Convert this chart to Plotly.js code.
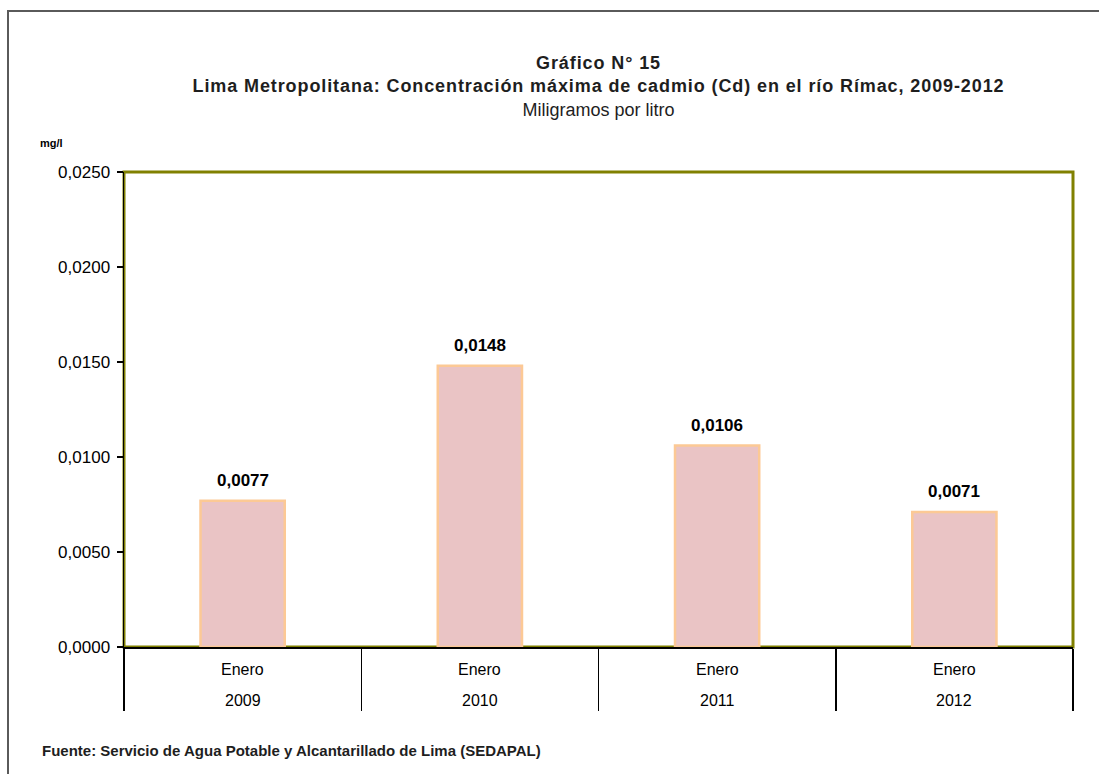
<!DOCTYPE html>
<html>
<head>
<meta charset="utf-8">
<script src="https://cdn.plot.ly/plotly-3.0.1.min.js"></script>
<style>
  html, body { margin: 0; padding: 0; background: #fff; overflow: hidden; }
  #wrap { position: relative; width: 1099px; height: 774px; }
  #chart { width: 1099px; height: 774px; }
  #frame { position: absolute; left: 7px; top: 10px; width: 1200px; height: 900px;
           border-left: 2px solid #5a5a5a; border-top: 2px solid #5a5a5a; pointer-events: none; }
</style>
</head>
<body>
<div id="wrap">
  <div id="chart"></div>
  <div id="frame"></div>
</div>
<script>
// ---- data ----
const years = ["2009", "2010", "2011", "2012"];
const months = ["Enero", "Enero", "Enero", "Enero"];
const cadmio = [0.0077, 0.0148, 0.0106, 0.0071];

const titleText = "<b>Gráfico N° 15</b><br><b>Lima Metropolitana: Concentración máxima de cadmio (Cd) en el río Rímac, 2009-2012</b><br>Miligramos por litro";
const unitText = "<b>mg/l</b>";
const sourceText = "<b>Fuente: Servicio de Agua Potable y Alcantarillado de Lima (SEDAPAL)</b>";

// ---- layout constants (pixels) ----
const W = 1099, H = 774;
const L = 124, R = 26, T = 172, B = 127;
const pw = W - L - R, ph = H - T - B;
const px2x = p => (p - L) / pw;
const py2y = p => (H - B - p) / ph;

const fontFam = "'Liberation Sans', Arial, sans-serif";

const trace = {
  type: "bar",
  x: years,
  y: cadmio,
  width: 0.355,
  marker: { color: "#eac4c5", line: { color: "#fcc995", width: 2.5 } },
  hoverinfo: "skip"
};

const barLabels = cadmio.map((v, i) => ({
  xref: "x", yref: "y",
  x: i, y: v,
  xanchor: "center", yanchor: "bottom", yshift: 9,
  text: "<b>" + v.toFixed(4).replace(".", ",") + "</b>",
  showarrow: false,
  font: { family: fontFam, size: 17, color: "#000" }
}));

// two-level category labels: month (inner) and year (outer)
const monthLabels = months.map((m, i) => ({
  xref: "x", yref: "paper",
  x: i, y: py2y(669),
  xanchor: "center", yanchor: "middle",
  text: m, showarrow: false,
  font: { family: fontFam, size: 16, color: "#000" }
}));
const yearLabels = years.map((yr, i) => ({
  xref: "x", yref: "paper",
  x: i, y: py2y(700),
  xanchor: "center", yanchor: "middle",
  text: yr, showarrow: false,
  font: { family: fontFam, size: 16, color: "#000" }
}));

const layout = {
  width: W, height: H,
  margin: { l: L, r: R, t: T, b: B, pad: 0 },
  paper_bgcolor: "rgba(0,0,0,0)",
  plot_bgcolor: "#fff",
  separators: ",.",
  showlegend: false,
  font: { family: fontFam, size: 16, color: "#000" },
  title: {
    text: titleText,
    x: 0.5, xref: "paper", xanchor: "center",
    y: 1 - 69 / H, yref: "container", yanchor: "top",
    font: { family: fontFam, size: 18, color: "#1e1e1e" }
  },
  xaxis: {
    type: "category",
    range: [-0.5, years.length - 0.5],
    tickson: "boundaries",
    showticklabels: false,
    showline: true, linecolor: "#000", linewidth: 1.5,
    ticks: "outside", ticklen: 62, tickwidth: 1.5, tickcolor: "#000",
    showgrid: false
  },
  yaxis: {
    range: [0, 0.025], dtick: 0.005, tick0: 0,
    tickformat: ".4f",
    showgrid: false, zeroline: false,
    showline: true, linecolor: "#000", linewidth: 1.5,
    ticks: "outside", ticklen: 6, tickcolor: "#000", tickwidth: 1.5,
    ticklabelstandoff: 3,
    tickfont: { family: fontFam, size: 17, color: "#000" }
  },
  shapes: [{
    type: "rect", xref: "paper", yref: "paper",
    x0: 0, x1: 1, y0: 0, y1: 1,
    line: { color: "#808000", width: 3 }, layer: "below"
  }],
  annotations: barLabels.concat(monthLabels, yearLabels, [
    {
      xref: "paper", yref: "paper", x: px2x(38), y: py2y(143),
      xanchor: "left", yanchor: "middle", showarrow: false,
      text: unitText, font: { family: fontFam, size: 11, color: "#000" }
    },
    {
      xref: "paper", yref: "paper", x: px2x(40), y: py2y(750),
      xanchor: "left", yanchor: "middle", showarrow: false,
      text: sourceText, font: { family: fontFam, size: 15, color: "#1e1e1e" }
    }
  ])
};

Plotly.newPlot("chart", [trace], layout, { displayModeBar: false, staticPlot: true }).then(gd => {
  // slight tracking on the bold title lines, as in the original
  const lines = gd.querySelectorAll(".gtitle tspan.line");
  lines.forEach((t, i) => { if (i < 2) t.style.letterSpacing = "0.9px"; });
});
</script>
</body>
</html>
